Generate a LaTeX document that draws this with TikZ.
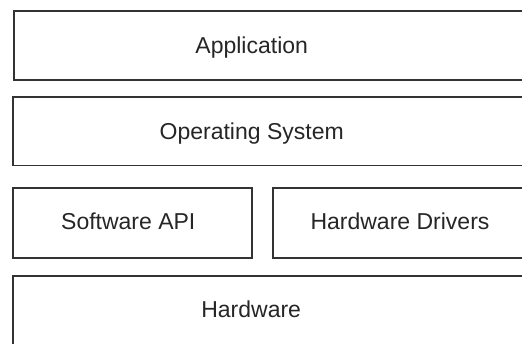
\documentclass[tikz,border=0pt]{standalone}
\usepackage{fontspec}
\setmainfont{Liberation Sans}
\begin{document}
\begin{tikzpicture}[x=1pt,y=-1pt,
  layerbox/.style={draw=black!80,line width=1.8pt,fill=white,rectangle,inner sep=0pt,anchor=north west},
  layertext/.style={font=\fontsize{23}{27}\selectfont,text=black!85,inner sep=0pt,anchor=base}]
\clip (0,0) rectangle (522,343);
\fill[white] (0,0) rectangle (522,343);
\node[layerbox,minimum width=517pt,minimum height=69pt] (app) at (13,10) {};
\node[layerbox,minimum width=518pt,minimum height=68.5pt] (os) at (12,96) {};
\node[layerbox,minimum width=239pt,minimum height=70pt] (api) at (12,187) {};
\node[layerbox,minimum width=258pt,minimum height=70pt] (drv) at (272,187) {};
\node[layerbox,minimum width=518pt,minimum height=85pt] (hw) at (12,275) {};
\node[layertext] (tapp) at (251.7,53.3) {Application};
\node[layertext] (tos) at (251.7,139.5) {Operating System};
\node[layertext] (tapi) at (128.3,229.3) {Software API};
\node[layertext] (tdrv) at (400,229.3) {Hardware Drivers};
\node[layertext] (thw) at (251.2,317.5) {Hardware};
\end{tikzpicture}
\end{document}
